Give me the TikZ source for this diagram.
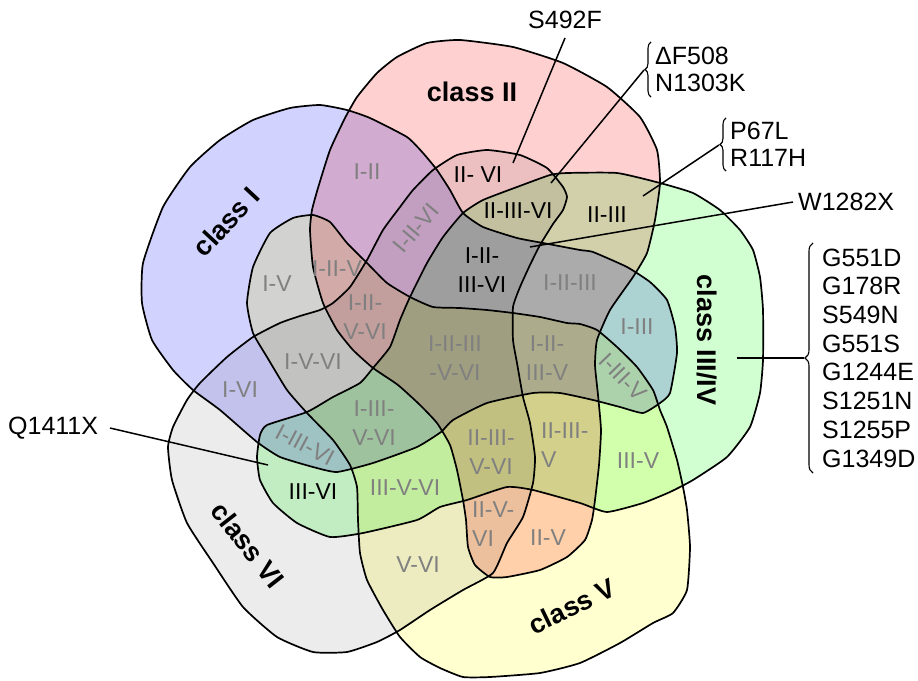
\documentclass[tikz,border=0pt]{standalone}
\usepackage{fontspec}
\setmainfont{Liberation Sans}
\usetikzlibrary{decorations.pathreplacing}
\definecolor{cI}{RGB}{210,210,255}
\definecolor{cII}{RGB}{255,208,208}
\definecolor{cIII}{RGB}{210,255,210}
\definecolor{cV}{RGB}{255,255,208}
\definecolor{cVI}{RGB}{236,236,236}
\definecolor{lblgrey}{RGB}{128,128,128}
\tikzset{
  rl/.style={text=lblgrey, font=\fontsize{23}{29}\selectfont, align=center, inner sep=0pt},
  rlb/.style={rl, text=black},
  cl/.style={font=\bfseries\fontsize{27}{32}\selectfont, inner sep=0pt},
  mt/.style={font=\fontsize{25}{27}\selectfont, inner sep=0pt, align=left},
  outline/.style={draw=black, line width=1.7pt, line join=round},
  ptr/.style={draw=black, line width=1.5pt},
  bracestyle/.style={draw=black, line width=1.1pt, decorate, decoration={brace, amplitude=6pt}},
  shp/.style={smooth cycle, tension=0.3}
}
\begin{document}
\begin{tikzpicture}[x=1pt,y=-1pt]
\fill[white] (0,0) rectangle (918,680);
\useasboundingbox (0,0) rectangle (918,680);

% set outlines
\path[save path=\pI] plot[shp] coordinates {(290,108) (320,105) (347,110) (370,118) (407,137) (423,153) (437,170) (450,190) (463,213) (483,227) (517,238) (543,243) (580,250) (593,252) (627,267) (650,282) (667,300) (675,327) (677,353) (670,393) (660,403) (643,413) (620,407) (593,400) (560,393) (533,393) (487,403) (453,420) (441,432) (417,447) (373,463) (337,472) (313,467) (280,457) (257,442) (220,410) (193,390) (173,370) (152,340) (142,303) (143,263) (163,207) (190,167) (220,140) (253,120)};
\path[save path=\pII] plot[shp] coordinates {(460,40) (513,47) (563,63) (607,87) (640,117) (657,150) (660,183) (655,220) (647,253) (633,277) (610,310) (597,340) (595,365) (598,395) (601,430) (599,465) (595,500) (592,520) (585,540) (567,557) (540,570) (507,577) (490,577) (475,565) (468,547) (466,520) (463,500) (457,470) (450,445) (437,423) (420,405) (398,385) (373,368) (353,350) (337,330) (323,303) (313,267) (310,230) (312,210) (318,188) (330,150) (345,118) (357,97) (377,73) (397,57) (427,43)};
\path[save path=\pIII] plot[shp] coordinates {(463,213) (483,200) (517,187) (550,175) (567,173) (617,173) (660,183) (693,193) (720,210) (740,230) (753,250) (760,277) (763,310) (763,360) (760,393) (750,427) (727,457) (693,480) (670,492) (643,503) (607,512) (580,503) (533,490) (507,487) (467,500) (440,507) (417,520) (363,533) (330,537) (297,523) (273,503) (260,480) (257,457) (260,435) (267,425) (307,412) (333,397) (360,383) (373,368) (390,347) (400,320) (410,297) (427,263) (443,237)};
\path[save path=\pV] plot[shp] coordinates {(313,215) (330,222) (347,243) (367,263) (387,283) (410,297) (433,307) (460,308) (487,310) (513,313) (540,317) (567,323) (580,324) (597,330) (617,347) (637,367) (653,390) (660,410) (667,427) (677,460) (683,487) (687,510) (690,547) (687,590) (673,613) (653,623) (620,643) (580,663) (540,673) (490,677) (463,677) (440,668) (420,657) (400,637) (383,610) (367,580) (360,553) (358,520) (357,487) (350,465) (333,440) (307,413) (287,390) (267,357) (253,333) (247,303) (253,267) (270,233) (293,218)};
\path[save path=\pVI] plot[shp] coordinates {(433,170) (457,155) (487,150) (520,155) (547,168) (563,187) (567,197) (563,210) (553,224) (540,245) (530,265) (520,287) (513,307) (513,340) (517,363) (523,397) (530,423) (535,457) (533,483) (523,517) (507,543) (493,573) (463,590) (430,610) (400,630) (377,642) (347,652) (313,652) (277,637) (243,607) (213,563) (187,523) (172,480) (168,447) (173,427) (187,400) (200,383) (227,357) (253,337) (280,323) (300,316) (320,310) (333,303) (350,287) (367,260) (383,230) (400,207) (413,190)};

\begin{scope}[blend mode=multiply]
  \path[use path=\pI, fill=cI];
  \path[use path=\pII, fill=cII];
  \path[use path=\pIII, fill=cIII];
  \path[use path=\pV, fill=cV];
  \path[use path=\pVI, fill=cVI];
\end{scope}
\path[use path=\pI, outline];
\path[use path=\pII, outline];
\path[use path=\pIII, outline];
\path[use path=\pV, outline];
\path[use path=\pVI, outline];

% class labels
\node[cl, rotate=47] (clI) at (226,222) {class I};
\node[cl] (clII) at (472,92) {class II};
\node[cl, rotate=-90] (clIII) at (707,340) {class III/IV};
\node[cl, rotate=26] (clV) at (572,606) {class V};
\node[cl, rotate=-52] (clVI) at (248,545) {class VI};

% region labels
\node[rl] (rI-II) at (367,172) {I-II};
\node[rlb] (rII-VI) at (478,175) {II- VI};
\node[rlb] (rII-III-VI) at (518,211) {II-III-VI};
\node[rlb] (rII-III) at (607,215) {II-III};
\node[rl, rotate=50] (rI-II-VI) at (416,228) {I-II-VI};
\node[rlb] (rI-II-III-VI) at (482,270) {I-II-\\III-VI};
\node[rl] (rI-II-III) at (570,283) {I-II-III};
\node[rl] (rI-III) at (637,327) {I-III};
\node[rl, rotate=-46] (rI-III-V) at (623,377) {I-III-V};
\node[rl] (rI-V) at (277,284) {I-V};
\node[rl] (rI-II-V) at (337,269) {I-II-V};
\node[rl] (rI-II-V-VI) at (365,317) {I-II-\\V-VI};
\node[rl] (rI-V-VI) at (313,362) {I-V-VI};
\node[rl] (rI-II-III-V-VI) at (455,358) {I-II-III\\-V-VI};
\node[rl] (rI-II-III-V) at (547,358) {I-II-\\III-V};
\node[rl] (rI-VI) at (240,390) {I-VI};
\node[rl, rotate=-28] (rI-III-VI) at (305,445) {I-III-VI};
\node[rl] (rI-III-V-VI) at (374,423) {I-III-\\V-VI};
\node[rlb] (rIII-VI) at (313,492) {III-VI};
\node[rl] (rIII-V-VI) at (405,488) {III-V-VI};
\node[rl] (rII-III-V-VI) at (491,452) {II-III-\\V-VI};
\node[rl, align=left, anchor=west] (rII-III-V) at (541,445) {II-III-\\V};
\node[rl] (rIII-V) at (638,461) {III-V};
\node[rl, align=left, anchor=west] (rII-V-VI) at (472,524) {II-V-\\VI};
\node[rl] (rII-V) at (548,538) {II-V};
\node[rl] (rV-VI) at (418,565) {V-VI};

% mutation labels
\node[mt] (mS492F) at (565,20) {S492F};
\coordinate (mS492Fa) at (565,38);
\coordinate (mS492Fb) at (513,163);
\draw[ptr] (mS492Fa) -- (mS492Fb);

\node[mt, anchor=west] (mDF) at (655,69) {ΔF508\\N1303K};
\draw[bracestyle] (651,97) -- (651,42);
\coordinate (mDFtip) at (644,70);
\coordinate (mDFend) at (551,183);
\draw[ptr] (mDFtip) -- (mDFend);

\node[mt, anchor=west] (mP67L) at (730,144) {P67L\\R117H};
\draw[bracestyle] (726,171) -- (726,118);
\coordinate (mP67Ltip) at (719,145);
\coordinate (mP67Lend) at (643,196);
\draw[ptr] (mP67Ltip) -- (mP67Lend);

\node[mt, anchor=west] (mW1282X) at (798,202) {W1282X};
\coordinate (mWa) at (793,202);
\coordinate (mWb) at (530,247);
\draw[ptr] (mWa) -- (mWb);

\node[mt, anchor=west, font=\fontsize{25}{28.7}\selectfont] (mList) at (822,358) {G551D\\G178R\\S549N\\G551S\\G1244E\\S1251N\\S1255P\\G1349D};
\draw[bracestyle, decoration={brace, amplitude=8pt}] (813,473) -- (813,243);
\coordinate (mListtip) at (804,358);
\coordinate (mListend) at (737,358);
\draw[ptr] (mListend) -- (mListtip);

\node[mt, anchor=west] (mQ1411X) at (8,428) {Q1411X};
\coordinate (mQa) at (110,428);
\coordinate (mQb) at (268,465);
\draw[ptr] (mQa) -- (mQb);
\end{tikzpicture}
\end{document}
